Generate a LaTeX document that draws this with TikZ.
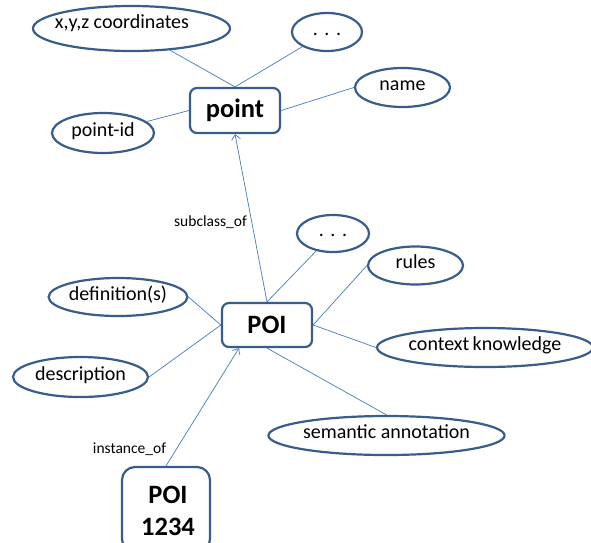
\documentclass[tikz,border=0pt]{standalone}
\usepackage{fontspec}
\setmainfont{Carlito}
\usetikzlibrary{arrows.meta,shapes.geometric,calc,backgrounds}
\definecolor{bord}{HTML}{385D8A}
\definecolor{conn}{HTML}{4F81BD}
\tikzset{
  ell/.style={ellipse, draw=bord, line width=2.2pt, fill=white, inner sep=0pt,
    text height=14pt, text depth=8pt,
    font=\fontsize{20}{23}\selectfont},
  cbox/.style={draw=bord, line width=2.2pt, fill=white, rounded corners=7pt,
    inner sep=0pt, font=\fontsize{26.5}{32}\bfseries},
  lbl/.style={font=\fontsize{15.5}{18}\selectfont, inner sep=0pt},
  conline/.style={draw=conn, line width=0.75pt},
  arr/.style={conline, -{Straight Barb[length=5pt,width=9pt]}}
}
\begin{document}
\begin{tikzpicture}[x=1pt,y=-1pt]
\useasboundingbox (0,0) rectangle (591,542);
% nodes
\node[cbox, minimum width=90pt, minimum height=45pt] (point) at (235,110.5) {point};
\node[cbox, minimum width=90pt, minimum height=44pt] (poi) at (267,325) {POI};
\node[cbox, rounded corners=13pt, minimum width=88pt, minimum height=85pt] (inst) at (166,509.5) {};
\node[font=\fontsize{26.5}{32}\bfseries\selectfont, inner sep=0pt, align=center] (insttext) at (168,511) {POI\\[0pt]1234};

\node[ell, minimum width=197pt, minimum height=45pt,
  label={[xshift=-9.5pt,yshift=5.5pt,font=\fontsize{20}{23}\selectfont]center:x,y,z coordinates}] (xyz) at (131.5,28.5) {};
\node[ell, minimum width=70pt, minimum height=38pt] (dotsA) at (327,32) {.\,\,.\,\,.};
\node[ell, minimum width=95pt, minimum height=39pt] (name) at (402.5,87.5) {name};
\node[ell, minimum width=102pt, minimum height=40pt] (pid) at (103,133) {point-id};
\node[ell, minimum width=72pt, minimum height=37pt] (dotsB) at (333,233.5) {.\,\,.\,\,.};
\node[ell, minimum width=95pt, minimum height=38pt] (rules) at (415.5,265.5) {rules};
\node[ell, minimum width=134pt, minimum height=38pt] (defs) at (118,297) {definition(s)};
\node[ell, minimum width=212pt, minimum height=39pt] (ctx) at (485,347.5) {context\,knowledge};
\node[ell, minimum width=135pt, minimum height=40pt] (desc) at (80.5,377) {description};
\node[ell, minimum width=229pt, minimum height=39pt] (sem) at (386.5,435.5) {semantic annotation};

\node[lbl] (subcl) at (210.5,222) {subclass\_of};
\node[lbl] (instof) at (129.5,449) {instance\_of};

% connectors
\begin{scope}[on background layer]
\draw[conline] (xyz) -- (point.north);
\draw[conline] (dotsA) -- (point.north);
\draw[conline] (name.west) -- (point.east);
\draw[conline] (pid) -- (point.west);
\draw[conline] (dotsB) -- (poi.north);
\draw[conline] (rules.west) -- (poi.east);
\draw[conline] (poi.east) -- (ctx.west);
\draw[conline] (defs.east) -- (poi.west);
\draw[conline] (desc.east) -- (poi.west);
\draw[conline] (poi.south) -- (sem.north);
\end{scope}
\draw[arr] (poi.north) -- (point.south);
\draw[arr] (inst.north) -- ([xshift=-28pt]poi.south);
\end{tikzpicture}
\end{document}
